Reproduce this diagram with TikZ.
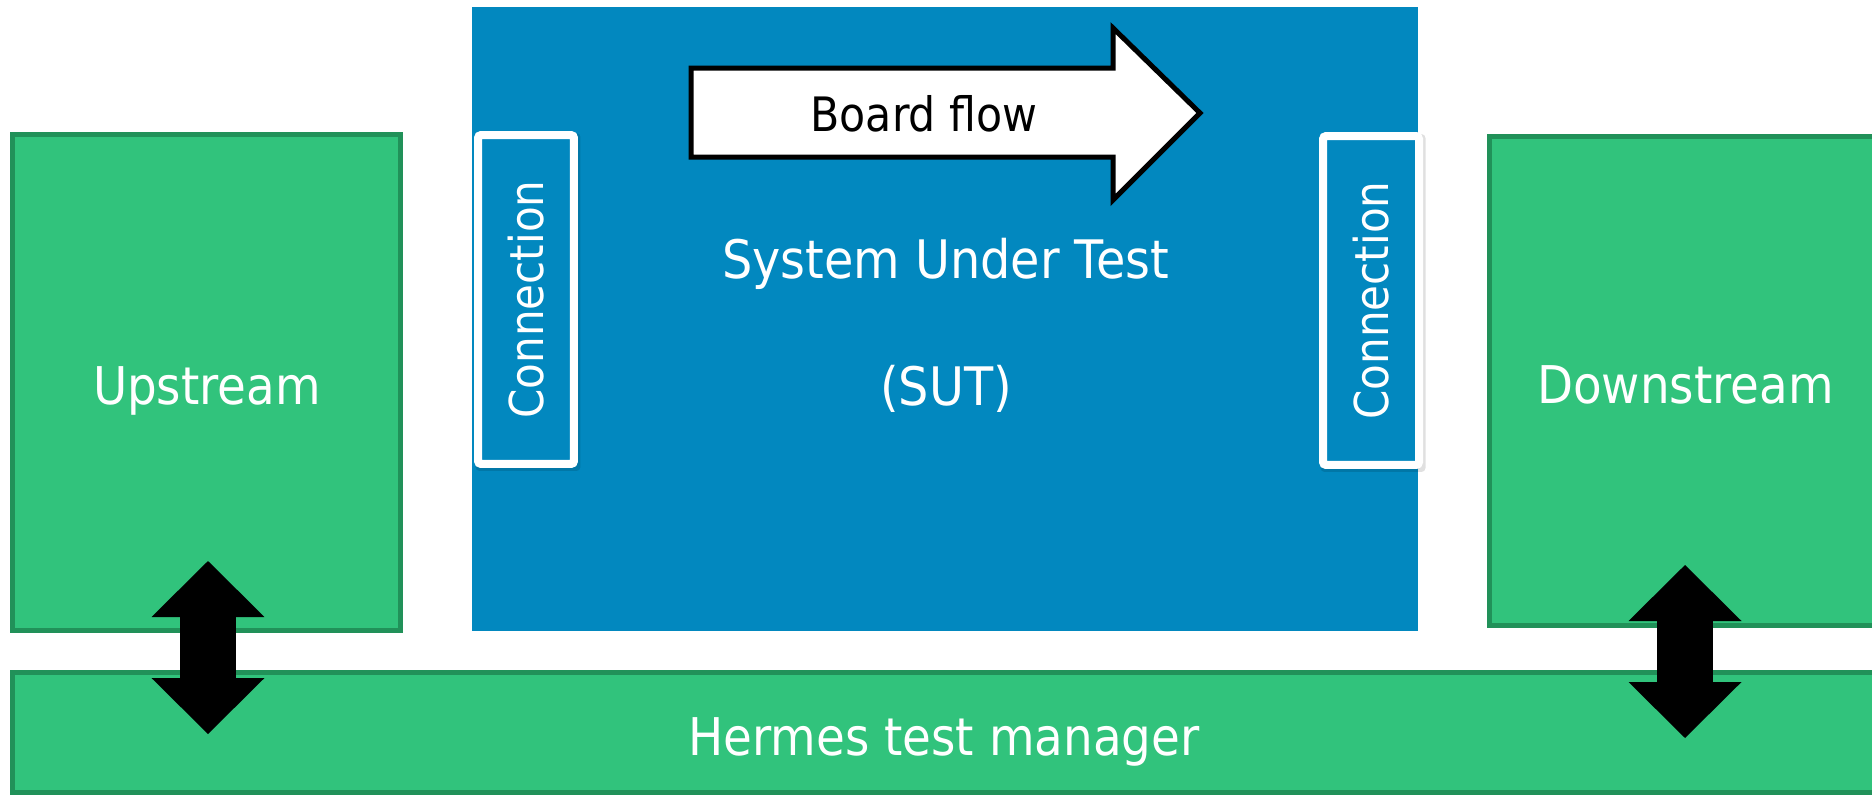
\documentclass[tikz,border=0pt]{standalone}
\usepackage{fontspec}
\setmainfont{DejaVu Sans}[FakeStretch=0.9]
\usetikzlibrary{arrows.meta}

\definecolor{boxgreen}{RGB}{49,195,124}
\definecolor{edgegreen}{RGB}{33,145,89}
\definecolor{sutblue}{RGB}{2,136,191}

\tikzset{
  greenbox/.style={rectangle, draw=edgegreen, fill=boxgreen, line width=0.1cm, inner sep=0pt},
  sutbox/.style={rectangle, fill=sutblue, inner sep=0pt},
  connbox/.style={rectangle, draw=white, fill=sutblue, line width=0.16cm, rounded corners=0.06cm,
    minimum width=1.92cm, minimum height=6.58cm, inner sep=0pt},
  shadowbox/.style={rectangle, fill=black, opacity=0.12, rounded corners=0.08cm,
    minimum width=2.1cm, minimum height=6.76cm, inner sep=0pt},
  whitetext/.style={text=white, font=\fontsize{29.6}{34}\selectfont, inner sep=0pt, anchor=base},
  suttext/.style={whitetext, font=\fontsize{30.2}{35}\selectfont},
  conntext/.style={text=white, font=\fontsize{26.6}{30}\selectfont, inner sep=0pt, rotate=90},
  flowtext/.style={text=black, font=\fontsize{27}{31}\selectfont, inner sep=0pt, anchor=base},
  flowarrow/.style={draw=black, fill=white, line width=0.1cm, line join=miter},
  updown/.style={line width=1.12cm, line cap=butt,
    arrows={Triangle[length=1.12cm,width=2.26cm,line width=0pt]-Triangle[length=1.12cm,width=2.26cm,line width=0pt]}}
}

\begin{document}
\begin{tikzpicture}[x=0.02cm, y=-0.02cm]
  \useasboundingbox (0,0) rectangle (1872,795);
  \clip (0,0) rectangle (1872,795);

  % system under test
  \node[sutbox, minimum width=18.92cm, minimum height=12.48cm] (sut) at (945,319) {};

  % connection panels on both sides of the SUT
  \node[shadowbox] (shl) at (528,302) {};
  \node[shadowbox] (shr) at (1373,303) {};
  \node[connbox] (cl) at (526,299.5) {};
  \node[connbox] (cr) at (1371,300.5) {};
  \node[conntext] (clt) at (cl.center) {Connection};
  \node[conntext] (crt) at (cr.center) {Connection};

  % board flow arrow
  \draw[flowarrow] (691,68) -- (1113,68) -- (1113,28) -- (1200,113) -- (1113,200) -- (1113,157) -- (691,157) -- cycle;
  \node[flowtext] (flow) at (924,131) {Board flow};

  % SUT labels
  \node[suttext] (sutname) at (945.5,278) {System Under Test};
  \node[suttext] (sutabbr) at (946,405) {(SUT)};

  % neighbouring machines and the test manager
  \node[greenbox, minimum width=7.76cm, minimum height=9.92cm] (up) at (206.5,382.5) {};
  \node[greenbox, minimum width=8.21cm, minimum height=9.78cm] (down) at (1694.75,381) {};
  \node[greenbox, minimum width=37.75cm, minimum height=2.4cm] (hermes) at (956.25,732.5) {};

  \node[whitetext] (upt) at (207,404) {Upstream};
  \node[whitetext] (downt) at (1685.5,403) {Downstream};
  \node[whitetext] (hermest) at (944,755) {Hermes test manager};

  % two-way links between the machines and the test manager
  \coordinate (ua) at (208,561);
  \coordinate (ub) at (208,734);
  \coordinate (da) at (1685,565);
  \coordinate (db) at (1685,738);
  \draw[updown] (ua) -- (ub);
  \draw[updown] (da) -- (db);
\end{tikzpicture}
\end{document}
